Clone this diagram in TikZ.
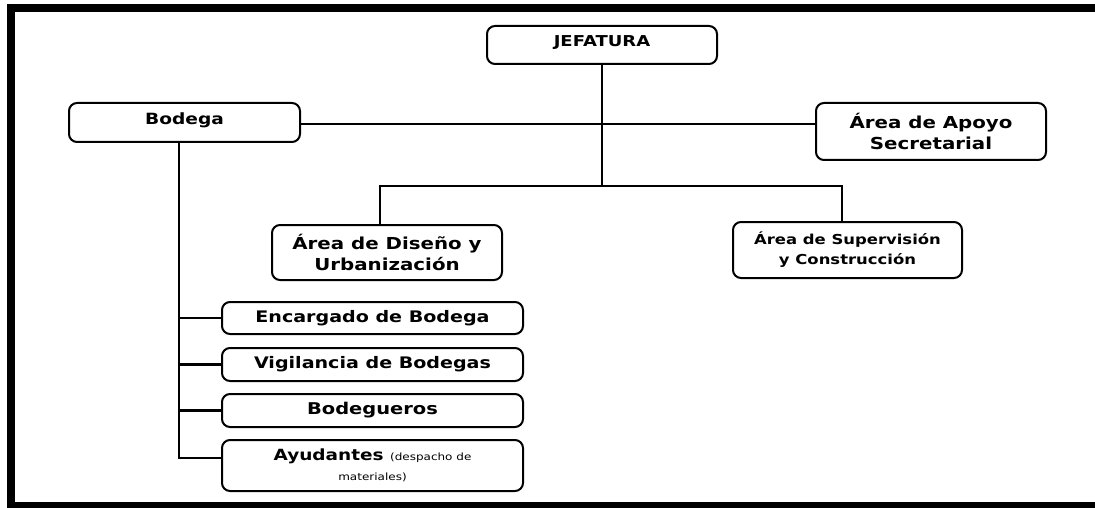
\documentclass[tikz,border=0pt]{standalone}
\usepackage{fontspec}
\setmainfont{DejaVu Sans}[FakeStretch=1.2]
\begin{document}
\begin{tikzpicture}[x=1pt,y=-1pt,
  box/.style={draw=black, line width=2pt, rounded corners=8pt, fill=white,
    inner sep=0pt, align=center, font=\bfseries},
  upper/.style={text height=11pt, text depth=7pt},
  conn/.style={draw=black, line width=2.4pt},
  small/.style={},
  frame/.style={fill=black}]
\useasboundingbox (0,0) rectangle (1095,508);
% outer frame
\fill[frame] (7,4) rectangle (1095,12);
\fill[frame] (7,4) rectangle (15,508);
\fill[frame] (7,502) rectangle (1095,508);
% connector coordinates
\coordinate (h1) at (380,186);
\coordinate (h2) at (842,186);
\coordinate (bv) at (179,458);
% nodes
\node[box, upper, minimum width=230pt, minimum height=38pt, font=\bfseries\fontsize{15}{18}\selectfont] (jef) at (602,45) {JEFATURA};
\node[box, upper, minimum width=231pt, minimum height=39pt, font=\bfseries\fontsize{15.5}{18}\selectfont] (bod) at (184.5,122.5) {Bodega};
\node[box, minimum width=230pt, minimum height=57pt, font=\bfseries\fontsize{16.5}{20.5}\selectfont] (apo) at (931,131.5) {Área de Apoyo\\Secretarial};
\node[box, minimum width=230pt, minimum height=55pt, font=\bfseries\fontsize{16.5}{20.5}\selectfont] (dis) at (387,252.5) {Área de Diseño y\\Urbanización};
\node[box, minimum width=229pt, minimum height=56pt, font=\bfseries\fontsize{13.7}{20}\selectfont] (sup) at (847.5,250) {Área de Supervisión\\y Construcción};
\node[box, minimum width=301pt, minimum height=32pt, font=\bfseries\fontsize{15.9}{19}\selectfont] (enc) at (372.5,318) {Encargado de Bodega};
\node[box, minimum width=301pt, minimum height=33pt, font=\bfseries\fontsize{15.9}{19}\selectfont] (vig) at (372.5,364.5) {Vigilancia de Bodegas};
\node[box, minimum width=301pt, minimum height=33pt, font=\bfseries\fontsize{16.2}{19}\selectfont] (bdg) at (372.5,410.5) {Bodegueros};
\node[box, minimum width=301pt, minimum height=51pt, font=\bfseries\fontsize{15.4}{20}\selectfont] (ayu) at (372.5,465.5) {Ayudantes {\mdseries\fontsize{10}{10}\selectfont (despacho de}\\{\mdseries\fontsize{10}{10}\selectfont materiales)}};
% connectors
\draw[conn] ([yshift=-1.5pt]bod.east) -- ([yshift=-1.5pt]bod.east -| apo.west);
\draw[conn] (jef.south) -- (jef.south |- h1);
\draw[conn] (dis.north -| h1) -- (h1) -- (h2) -- (sup.north -| h2);
\draw[conn] (bod.south -| bv) -- (bv) -- (bv -| ayu.west);
\draw[conn] (bv |- enc.west) -- (enc.west);
\draw[conn] (bv |- vig.west) -- (vig.west);
\draw[conn] (bv |- bdg.west) -- (bdg.west);
\end{tikzpicture}
\end{document}
